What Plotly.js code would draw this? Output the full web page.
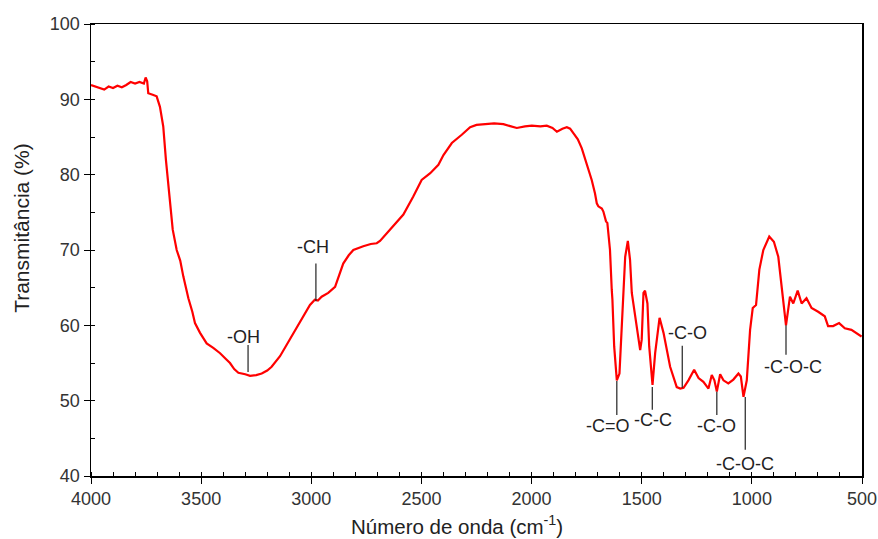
<!DOCTYPE html>
<html>
<head>
<meta charset="utf-8">
<script src="https://cdn.plot.ly/plotly-3.0.1.min.js"></script>
<style>html,body{margin:0;padding:0;background:#fff;}#chart{width:878px;height:539px;}</style>
</head>
<body>
<div id="chart"></div>
<script>
// Wavenumber (cm-1)
const wavenumber = [
  4000, 3980, 3960, 3940, 3920, 3900, 3880, 3860, 3840, 3820, 3800, 3780, 3760, 3752, 3745, 3740,
  3720, 3702, 3687, 3672, 3660, 3645, 3629, 3611, 3595, 3581, 3558, 3540, 3528, 3505, 3475, 3445, 3414, 3390,
  3369, 3350, 3331, 3300, 3278, 3250, 3225, 3200, 3180, 3142, 3097, 3044, 3006, 2984, 2970, 2953, 2923, 2892,
  2870, 2855, 2830, 2809, 2764, 2730, 2703, 2688, 2643, 2582, 2537, 2499, 2460, 2423, 2400, 2362,
  2317, 2279, 2250, 2219, 2170, 2128, 2100, 2067, 2030, 1999, 1960, 1931, 1905, 1885, 1860, 1840,
  1825, 1810, 1790, 1772, 1742, 1727, 1712, 1704, 1697, 1681, 1674, 1662, 1656, 1647, 1644, 1636,
  1633, 1625, 1613, 1601, 1586, 1575, 1563, 1553, 1545, 1530, 1507, 1500, 1492, 1485, 1474, 1466,
  1451, 1439, 1419, 1401, 1371, 1341, 1325, 1310, 1288, 1262, 1242, 1220, 1197, 1182, 1170, 1159,
  1144, 1129, 1107, 1084, 1061, 1050, 1038, 1023, 1008, 996, 981, 966, 948, 921, 900, 880,
  865, 845, 827, 812, 792, 774, 752, 729, 699, 669, 654, 631, 604, 578, 548, 525, 502
];
// Transmittance (%)
const transmittance = [
  91.9, 91.7, 91.5, 91.3, 91.7, 91.5, 91.8, 91.6, 91.9, 92.3, 92.1, 92.3, 92.1, 92.9, 92.4, 90.8,
  90.6, 90.4, 89.0, 86.4, 82.0, 77.5, 72.7, 70.0, 68.6, 66.5, 63.6, 61.8, 60.3, 59.0, 57.6, 57.0, 56.3, 55.6,
  55.0, 54.2, 53.7, 53.5, 53.3, 53.4, 53.6, 54.0, 54.5, 55.9, 58.1, 60.7, 62.7, 63.4, 63.3, 63.8, 64.3, 65.1,
  67.0, 68.2, 69.3, 70.0, 70.5, 70.8, 70.9, 71.2, 72.7, 74.7, 77.1, 79.3, 80.2, 81.3, 82.6, 84.2,
  85.3, 86.3, 86.6, 86.7, 86.8, 86.7, 86.5, 86.2, 86.4, 86.5, 86.4, 86.5, 86.2, 85.7, 86.1, 86.3,
  86.1, 85.5, 84.7, 83.5, 80.6, 79.3, 77.5, 76.2, 75.8, 75.5, 75.1, 73.8, 73.6, 70.4, 70.0, 64.7,
  63.4, 57.2, 52.7, 53.6, 61.6, 69.1, 71.2, 68.7, 64.3, 61.2, 56.7, 58.1, 64.3, 64.6, 62.9, 57.2,
  52.1, 56.3, 61.0, 59.0, 54.5, 51.8, 51.6, 51.7, 52.7, 54.1, 53.0, 52.5, 51.6, 53.4, 52.7, 51.2,
  53.5, 52.7, 52.3, 52.8, 53.6, 53.2, 50.5, 52.7, 59.4, 62.3, 62.7, 67.4, 70.0, 71.8, 71.1, 69.1,
  65.1, 60.0, 63.8, 62.9, 64.6, 62.9, 63.6, 62.3, 61.8, 61.2, 59.9, 59.9, 60.3, 59.6, 59.4, 59.0, 58.5
];

// Band labels
const labelText  = ["-OH", "-CH", "-C=O", "-C-C", "-C-O", "-C-O", "-C-O-C", "-C-O-C"];
const labelX     = [3287, 2979, 1613, 1452, 1316, 1159, 1030, 845];   // band position (cm-1)
const lineFromY  = [53.8, 63.2, 52.6, 51.8, 51.7, 51.2, 50.5, 60.0];  // leader start (at curve)
const lineToY    = [57.4, 68.2, 48.1, 48.8, 57.3, 48.1, 43.5, 56.1];  // leader end
const textX      = [3310, 2992, 1652, 1448, 1290, 1162, 1031, 813];
const textY      = [58.5, 70.4, 46.7, 47.5, 59.0, 46.7, 41.6, 54.5];

const xTitle = "Número de onda (cm<sup>-1</sup>)";
const yTitle = "Transmitância (%)";

const FONT = "Liberation Sans, Arial, sans-serif";

const shapes = labelText.map((t, i) => ({
  type: "line", xref: "x", yref: "y",
  x0: labelX[i], x1: labelX[i], y0: lineFromY[i], y1: lineToY[i],
  line: {color: "#222", width: 1.2}
}));
const annotations = labelText.map((t, i) => ({
  x: textX[i], y: textY[i], xref: "x", yref: "y", text: t, showarrow: false,
  font: {family: FONT, size: 18, color: "#222"}
}));
annotations.push({
  x: 0.4747, y: -0.108, xref: "paper", yref: "paper", text: xTitle, showarrow: false,
  xanchor: "center", yanchor: "middle", font: {family: FONT, size: 20.5, color: "#222"}
});
annotations.push({
  x: -0.0895, y: 0.549, xref: "paper", yref: "paper", text: yTitle, showarrow: false,
  textangle: -90, xanchor: "center", yanchor: "middle", font: {family: FONT, size: 21, color: "#222"}
});

const trace = {
  x: wavenumber, y: transmittance, type: "scatter", mode: "lines",
  line: {color: "#ff0000", width: 2.2}, hoverinfo: "skip"
};

const layout = {
  width: 878, height: 539,
  margin: {l: 91, r: 16, t: 24, b: 63},
  paper_bgcolor: "#fff", plot_bgcolor: "#fff",
  showlegend: false,
  font: {family: FONT, size: 18, color: "#333"},
  xaxis: {
    range: [4000, 500], autorange: false,
    tickvals: [4000, 3500, 3000, 2500, 2000, 1500, 1000, 500],
    ticks: "outside", ticklen: 6, tickcolor: "#000", tickwidth: 1,
    minor: {dtick: 100, ticks: "inside", ticklen: 4, tickcolor: "#000", tickwidth: 1, showgrid: false},
    showgrid: false, zeroline: false,
    showline: true, linecolor: "#000", linewidth: 1.5, mirror: true,
    tickfont: {family: FONT, size: 18, color: "#333"}
  },
  yaxis: {
    range: [40, 100], autorange: false,
    dtick: 10, tick0: 40,
    ticks: "outside", ticklen: 6, tickcolor: "#000", tickwidth: 1,
    minor: {dtick: 5, ticks: "inside", ticklen: 4, tickcolor: "#000", tickwidth: 1, showgrid: false},
    showgrid: false, zeroline: false,
    showline: true, linecolor: "#000", linewidth: 1.5, mirror: true,
    tickfont: {family: FONT, size: 18, color: "#333"}
  },
  shapes: shapes,
  annotations: annotations
};

Plotly.newPlot("chart", [trace], layout, {displayModeBar: false, staticPlot: true});
</script>
</body>
</html>
